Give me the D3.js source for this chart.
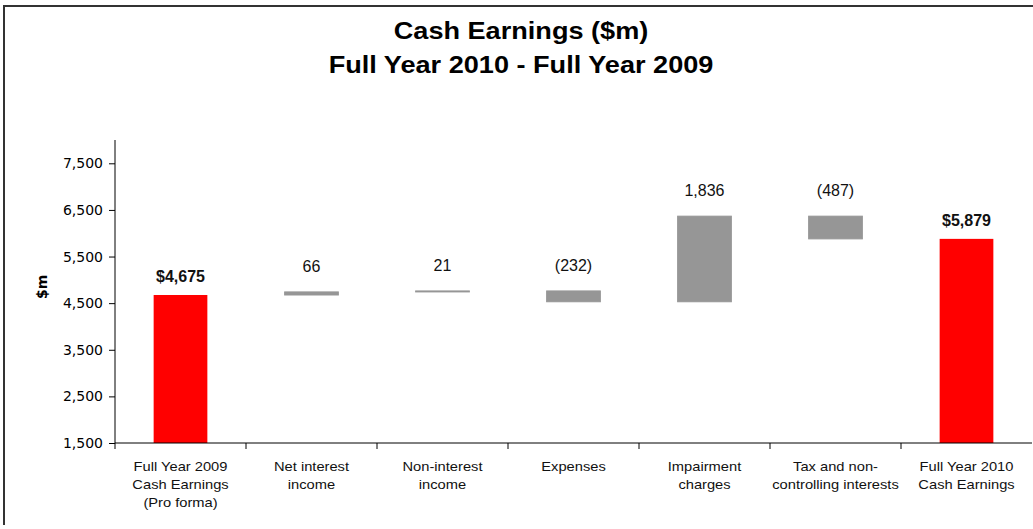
<!DOCTYPE html>
<html>
<head>
<meta charset="utf-8">
<script src="https://cdn.jsdelivr.net/npm/d3@7"></script>
<style>
  body { margin: 0; background: #fff; }
</style>
</head>
<body>
<div id="vis"></div>
<script>
const categories = [
  ["Full Year 2009", "Cash Earnings", "(Pro forma)"],
  ["Net interest", "income"],
  ["Non-interest", "income"],
  ["Expenses"],
  ["Impairment", "charges"],
  ["Tax and non-", "controlling interests"],
  ["Full Year 2010", "Cash Earnings"]
];
// first and last are totals, the rest are movements
const startTotal = 4675;
const movements = [66, 21, -232, 1836, -487];
const endTotal = 5879;
const yTicks = [1500, 2500, 3500, 4500, 5500, 6500, 7500];
const titleLines = ["Cash Earnings ($m)", "Full Year 2010 - Full Year 2009"];

const width = 1033, height = 529;
const stretch = 1.13; // source picture is a bit wide
const svg = d3.select("#vis").append("svg")
  .attr("width", width)
  .attr("height", height);

// frame
svg.append("path")
  .attr("d", "M4,525V6H1033")
  .attr("fill", "none")
  .attr("stroke", "#333")
  .attr("stroke-width", 2);

svg.append("g")
  .attr("font-family", "'Liberation Sans', Arial, sans-serif")
  .attr("font-weight", "bold")
  .attr("font-size", 24)
  .attr("text-anchor", "middle")
  .selectAll("text")
  .data(titleLines)
  .join("text")
  .attr("transform", (d, i) => `translate(521,${39 + i * 34}) scale(${stretch},1)`)
  .text(d => d);

// build waterfall steps
const steps = [{ base: 0, end: startTotal, total: true, value: startTotal }];
let running = startTotal;
movements.forEach(v => {
  steps.push({ base: running, end: running + v, total: false, value: v });
  running += v;
});
steps.push({ base: 0, end: endTotal, total: true, value: endTotal });
steps.forEach((d, i) => d.cat = categories[i].join(" "));

const x = d3.scaleBand()
  .domain(steps.map(d => d.cat))
  .range([115, 1032])
  .paddingInner(0.59)
  .paddingOuter(0.295);

const y = d3.scaleLinear()
  .domain([1500, 8000])
  .range([443, 140]);

const cx = d => x(d.cat) + x.bandwidth() / 2;

// bars
svg.append("g")
  .selectAll("rect")
  .data(steps)
  .join("rect")
  .attr("x", d => x(d.cat))
  .attr("width", x.bandwidth())
  .attr("y", d => d.total ? y(d.end) : y(Math.max(d.base, d.end)))
  .attr("height", d => d.total ? y(1500) - y(d.end) : Math.abs(y(d.base) - y(d.end)))
  .attr("fill", d => d.total ? "#ff0000" : "#969696")
  .attr("stroke", d => d.total ? "none" : "#969696")
  .attr("stroke-width", 1);

// value labels
const fmt = d3.format(",");
svg.append("g")
  .attr("font-family", "'Liberation Sans', Arial, sans-serif")
  .attr("font-size", 16)
  .attr("text-anchor", "middle")
  .selectAll("text")
  .data(steps)
  .join("text")
  .attr("x", cx)
  .attr("y", d => y(Math.max(d.base, d.end)) - (d.total ? 13 : 20))
  .attr("font-weight", d => d.total ? "bold" : "normal")
  .attr("fill", "#111")
  .text(d => d.total ? "$" + fmt(d.value) : (d.value < 0 ? `(${fmt(-d.value)})` : fmt(d.value)));

// y axis
const yAxis = svg.append("g")
  .attr("transform", "translate(115,0)")
  .call(d3.axisLeft(y).tickValues(yTicks).tickFormat(fmt).tickSize(6).tickPadding(6));
yAxis.select(".domain").attr("d", `M0,${y(8000)}V${y(1500)}`);
yAxis.selectAll("text")
  .attr("font-family", "'DejaVu Sans', Verdana, sans-serif")
  .attr("font-size", 14)
  .attr("fill", "#000");

svg.append("text")
  .attr("transform", `translate(47,${y(4850)}) rotate(-90)`)
  .attr("text-anchor", "middle")
  .attr("font-family", "'DejaVu Sans', Verdana, sans-serif")
  .attr("font-weight", "bold")
  .attr("font-size", 14)
  .text("$m");

// x axis with ticks at the category boundaries
const xAxis = svg.append("g")
  .attr("transform", `translate(0,${y(1500)})`);
xAxis.append("line")
  .attr("x1", 115).attr("x2", 1032)
  .attr("stroke", "#000");
const bounds = steps.map(d => x(d.cat) - x.step() * x.paddingInner() / 2);
xAxis.selectAll(".tick")
  .data(bounds)
  .join("line")
  .attr("class", "tick")
  .attr("x1", d => d).attr("x2", d => d)
  .attr("y1", 0).attr("y2", 6)
  .attr("stroke", "#000");

xAxis.append("g")
  .attr("font-family", "'Liberation Sans', Arial, sans-serif")
  .attr("font-size", 13)
  .attr("text-anchor", "middle")
  .selectAll("text")
  .data(steps)
  .join("text")
  .attr("transform", d => `translate(${cx(d)},28) scale(${stretch},1)`)
  .attr("fill", "#111")
  .selectAll("tspan")
  .data((d, i) => categories[i])
  .join("tspan")
  .attr("x", 0)
  .attr("dy", (d, i) => i === 0 ? 0 : 18)
  .text(d => d);
</script>
</body>
</html>
